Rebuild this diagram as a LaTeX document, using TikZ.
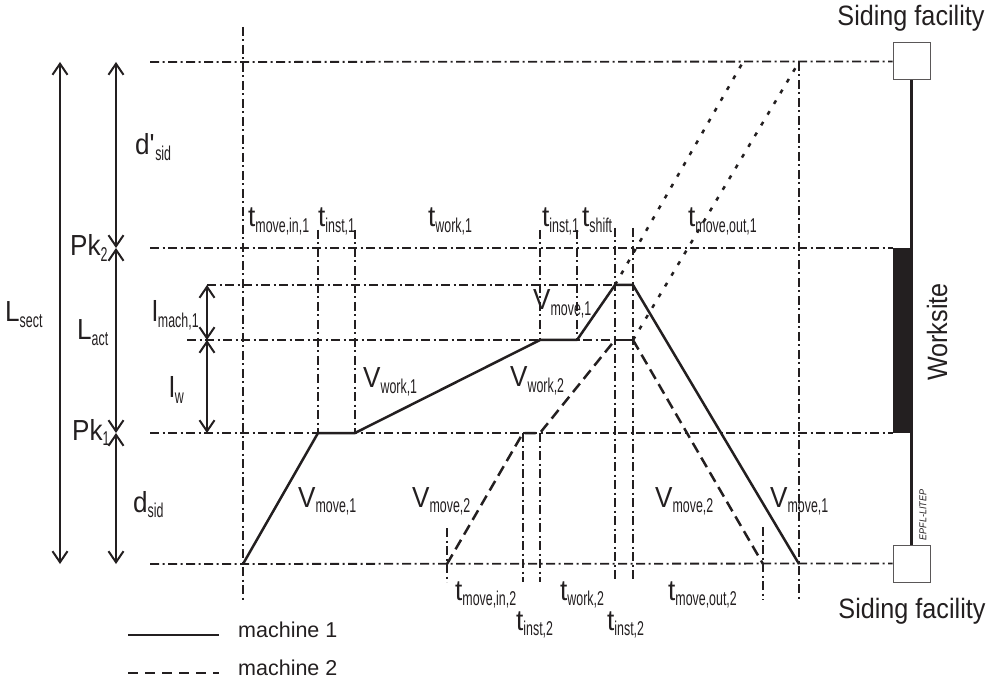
\documentclass[tikz,border=0pt]{standalone}
\usepackage{fontspec}
\setmainfont{Liberation Sans}
\newfontfamily\bigfont{Liberation Sans}[FakeStretch=0.9]
\newfontfamily\subfont{Liberation Sans}[FakeStretch=0.62]
\usetikzlibrary{arrows.meta}
\definecolor{ink}{RGB}{35,31,32}
\newcommand{\lbl}[2]{{\fontsize{29}{32}\bigfont #1}\raisebox{-5.5pt}{\fontsize{20}{22}\subfont #2}}
\tikzset{
	gridline/.style={ink, line width=1.8pt, dash pattern=on 9pt off 3.5pt on 2pt off 3.5pt},
	machA/.style={ink, line width=2.5pt, line join=round},
	machB/.style={ink, line width=2.5pt, dash pattern=on 11pt off 6pt},
	machout/.style={ink, line width=2.5pt, dash pattern=on 4pt off 8.5pt},
	dimline/.style={ink, line width=2pt, {Straight Barb[length=11pt,width=15pt]}-{Straight Barb[length=11pt,width=15pt]}},
	tlabel/.style={inner sep=0pt, anchor=base west, text=ink},
	sidbox/.style={draw=ink!75, fill=white, line width=1pt, minimum size=37pt, inner sep=0pt},
	bigtext/.style={inner sep=0pt, text=ink, font=\fontsize{28}{30}\bigfont},
}

\begin{document}
\begin{tikzpicture}[x=1pt,y=-1pt]
	\useasboundingbox (0,0) rectangle (989,687);

	\node[sidbox] (sidtop) at (911.5,61.5) {};
	\node[sidbox] (sidbot) at (911.5,563.5) {};
	\draw[ink, line width=2.5pt] (sidtop.south) -- (sidbot.north);
	\fill[ink] (893,248) rectangle (912,433);
	\node[bigtext, anchor=base] (sidtoplbl) at (911,26) {Siding facility};
	\node[bigtext, anchor=base] (sidbotlbl) at (912,618) {Siding facility};
	\node[bigtext, rotate=90] (worksite) at (937,332) {Worksite};
	\node[inner sep=0pt, text=ink, rotate=90, font=\fontsize{10}{11}\bigfont\itshape] (epfl) at (923,515) {EPFL-LITEP};

	\draw[gridline] (150,62) -- (sidtop.west);
	\draw[gridline] (150,248) -- (893,248);
	\draw[gridline] (207,285) -- (615,285);
	\draw[gridline] (187,340) -- (615,340);
	\draw[gridline] (150,433) -- (893,433);
	\draw[gridline] (150,564) -- (sidbot.west);

	\draw[gridline] (243,27) -- (243,600);
	\draw[gridline] (318,230) -- (318,433);
	\draw[gridline] (355,230) -- (355,433);
	\draw[gridline] (540,230) -- (540,340);
	\draw[gridline] (540,433) -- (540,582);
	\draw[gridline] (577,230) -- (577,340);
	\draw[gridline] (615,228) -- (615,582);
	\draw[gridline] (633,228) -- (633,582);
	\draw[gridline] (447,528) -- (447,582);
	\draw[gridline] (523,433) -- (523,582);
	\draw[gridline] (763,527) -- (763,600);
	\draw[gridline] (799,62) -- (799,600);

	\coordinate (a0) at (243,564);
	\coordinate (a1) at (318,433);
	\coordinate (a2) at (355,433);
	\coordinate (a3) at (540,340);
	\coordinate (a4) at (577,340);
	\coordinate (a5) at (615,285);
	\coordinate (a6) at (633,285);
	\coordinate (a7) at (799,564);
	\coordinate (b0) at (447,564);
	\coordinate (b1) at (523,433);
	\coordinate (b2) at (540,433);
	\coordinate (b3) at (615,340);
	\coordinate (b4) at (633,340);
	\coordinate (b5) at (763,564);
	\coordinate (c1) at (743,62);
	\coordinate (c2) at (799,62);

	\draw[machA] (a0) -- (a1) -- (a2) -- (a3) -- (a4) -- (a5) -- (a6) -- (a7);
	\draw[machB] (b0) -- (b1) -- (b2) -- (b3);
	\draw[machA] (b3) -- (b4);
	\draw[machB] (b4) -- (b5);
	\draw[machout] (a5) -- (c1);
	\draw[machout] (b4) -- (c2);

	\coordinate (s0) at (60,62);
	\coordinate (s1) at (60,564);
	\coordinate (p0) at (116,62);
	\coordinate (p1) at (116,248);
	\coordinate (p2) at (116,433);
	\coordinate (p3) at (116,564);
	\coordinate (m0) at (207,285);
	\coordinate (m1) at (207,340);
	\coordinate (m2) at (207,433);
	\draw[dimline] (s0) -- (s1);
	\draw[dimline] (p0) -- (p1);
	\draw[dimline] (p1) -- (p2);
	\draw[dimline] (p2) -- (p3);
	\draw[dimline] (m0) -- (m1);
	\draw[dimline] (m1) -- (m2);

	\node[tlabel] (dpsid) at (135,155) {\lbl{d\textquotesingle}{sid}};
	\node[tlabel] (pk2) at (70,256) {\lbl{Pk}{2}};
	\node[tlabel] (lsect) at (5,322) {\lbl{L}{sect}};
	\node[tlabel] (lact) at (77,340) {\lbl{L}{act}};
	\node[tlabel] (lmach) at (152,322) {\lbl{l}{mach,1}};
	\node[tlabel] (lw) at (169,398) {\lbl{l}{w}};
	\node[tlabel] (pk1) at (72,440) {\lbl{Pk}{1}};
	\node[tlabel] (dsid) at (133,512) {\lbl{d}{sid}};

	\node[tlabel] (tmovein1) at (248,227) {\lbl{t}{move,in,1}};
	\node[tlabel] (tinst1a) at (318,227) {\lbl{t}{inst,1}};
	\node[tlabel] (twork1) at (428,227) {\lbl{t}{work,1}};
	\node[tlabel] (tinst1b) at (542,227) {\lbl{t}{inst,1}};
	\node[tlabel] (tshift) at (582,227) {\lbl{t}{shift}};
	\node[tlabel] (tmoveout1) at (688,227) {\lbl{t}{move,out,1}};

	\node[tlabel] (tmovein2) at (455,600) {\lbl{t}{move,in,2}};
	\node[tlabel] (tinst2a) at (516,630) {\lbl{t}{inst,2}};
	\node[tlabel] (twork2) at (560,600) {\lbl{t}{work,2}};
	\node[tlabel] (tinst2b) at (607,630) {\lbl{t}{inst,2}};
	\node[tlabel] (tmoveout2) at (668,600) {\lbl{t}{move,out,2}};

	\node[tlabel] (vmove1a) at (298,507) {\lbl{V}{move,1}};
	\node[tlabel] (vmove2a) at (412,507) {\lbl{V}{move,2}};
	\node[tlabel] (vwork1) at (363,388) {\lbl{V}{work,1}};
	\node[tlabel] (vwork2) at (510,387) {\lbl{V}{work,2}};
	\node[tlabel] (vmove1b) at (533,310) {\lbl{V}{move,1}};
	\node[tlabel] (vmove2b) at (655,507) {\lbl{V}{move,2}};
	\node[tlabel] (vmove1c) at (770,507) {\lbl{V}{move,1}};

	\coordinate (leg1a) at (128,635);
	\coordinate (leg1b) at (219,635);
	\coordinate (leg2a) at (128,673);
	\coordinate (leg2b) at (219,673);
	\draw[machA] (leg1a) -- (leg1b);
	\draw[machB, dash pattern=on 10pt off 7pt] (leg2a) -- (leg2b);
	\node[tlabel, font=\fontsize{21.5}{24}\selectfont] (leg1) at (238,637) {machine 1};
	\node[tlabel, font=\fontsize{21.5}{24}\selectfont] (leg2) at (238,675) {machine 2};
\end{tikzpicture}
\end{document}
